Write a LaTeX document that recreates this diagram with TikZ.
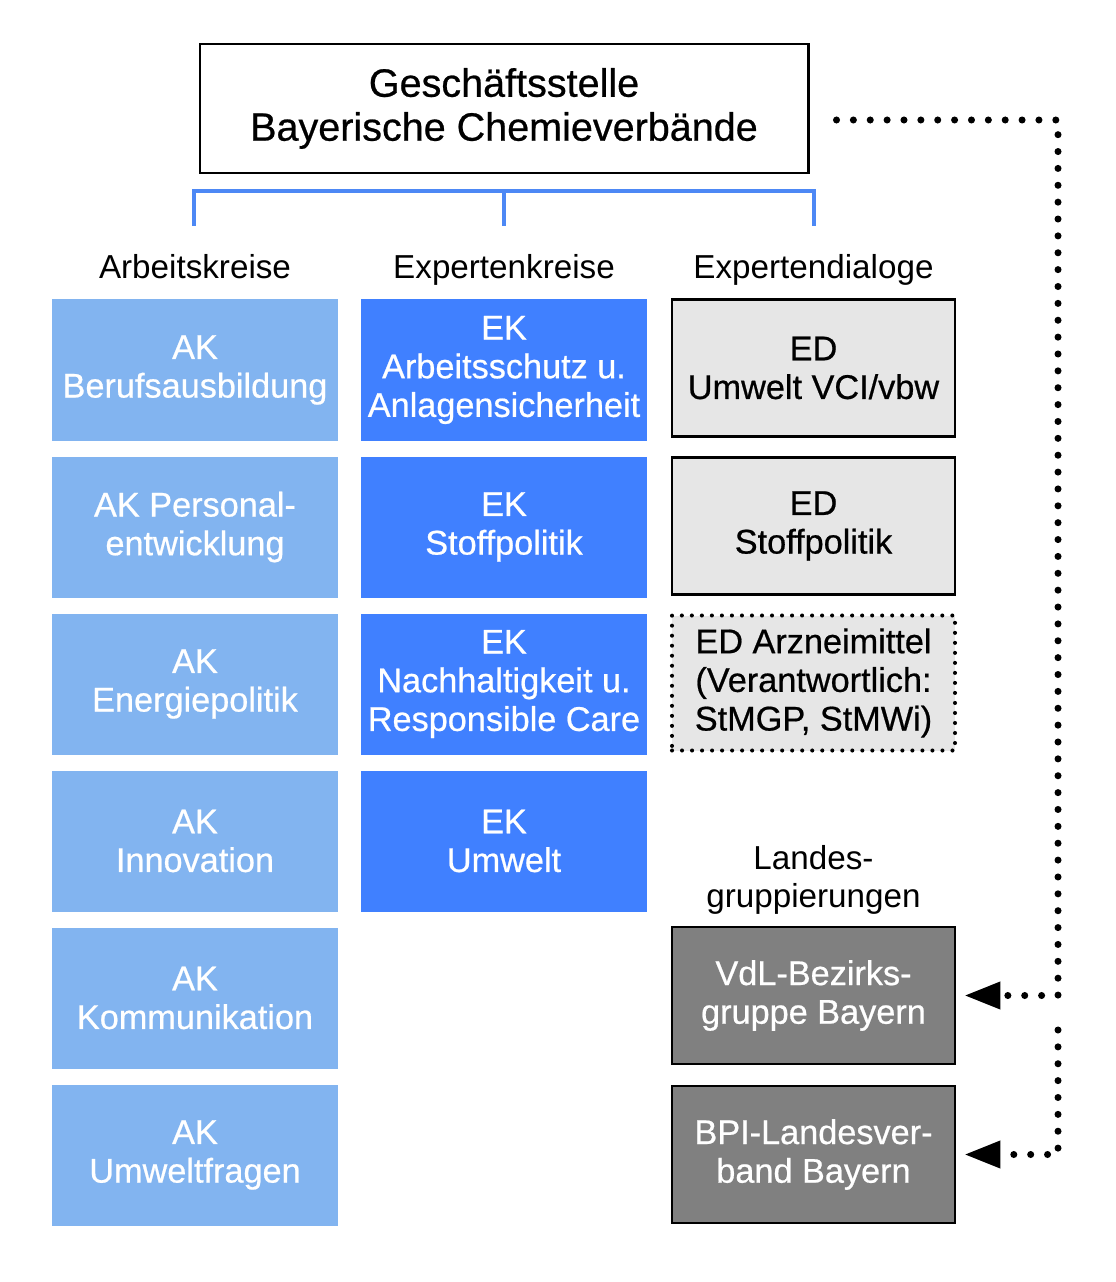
\documentclass[tikz,border=0pt]{standalone}
\usepackage{fontspec}
\setmainfont{Liberation Sans}
\newfontfamily\mediumsans{Liberation Sans}[FakeBold=0.6]
\usetikzlibrary{arrows.meta}

\definecolor{akblue}{HTML}{82B4F0}
\definecolor{ekblue}{HTML}{4080FF}
\definecolor{linkblue}{HTML}{4D88F5}
\definecolor{edgrey}{HTML}{E6E6E6}
\definecolor{lgdark}{HTML}{808080}

\begin{document}
\begin{tikzpicture}[
    box/.style={minimum width=5.72cm, minimum height=2.82cm, inner sep=0pt,
        align=center, font=\mediumsans\fontsize{19.5}{22}\selectfont},
    akbox/.style={box, fill=akblue, text=white},
    ekbox/.style={box, fill=ekblue, text=white},
    edbox/.style={box, fill=edgrey, draw=black, line width=1.6pt,
        minimum width=5.66cm, minimum height=2.74cm},
    edopen/.style={box, fill=edgrey, draw=black, line width=2.3pt,
        dash pattern=on 0pt off 5.7pt, line cap=round,
        minimum width=5.66cm, minimum height=2.70cm},
    lgbox/.style={edbox, fill=lgdark, text=white},
    head/.style={anchor=base, font=\fontsize{18.9}{22}\selectfont},
    conn/.style={line width=4pt, dash pattern=on 0pt off 9.6pt, line cap=round,
        -{Triangle[length=0.72cm, width=0.52cm]}, shorten >=0.16cm}
]
    \useasboundingbox (0, 0) rectangle (22.32, -25.64);

    % top box
    \node[draw=black, line width=1.7pt, minimum width=12.16cm, minimum height=2.58cm,
        align=center, font=\mediumsans\fontsize{22.5}{25}\selectfont]
        (gs) at (10.08, -2.17) {Geschäftsstelle\\Bayerische Chemieverbände};

    % blue bracket
    \coordinate (brl) at (3.88, -4.52);
    \coordinate (brm) at (10.08, -4.52);
    \coordinate (brr) at (16.28, -4.52);
    \coordinate (brtop) at (10.08, -3.82);
    \draw[linkblue, line width=2.8pt] (brl) |- (brtop) -| (brr);
    \draw[linkblue, line width=2.8pt] (brm) -- (brtop);

    % column heads
    \node[head] (hak) at (3.90, -5.57) {Arbeitskreise};
    \node[head] (hek) at (10.08, -5.57) {Expertenkreise};
    \node[head] (hed) at (16.27, -5.57) {Expertendialoge};

    % Arbeitskreise
    \node[akbox] (ak1) at (3.90, -7.40) {AK\\Berufsausbildung};
    \node[akbox] (ak2) at (3.90, -10.54) {AK Personal-\\entwicklung};
    \node[akbox] (ak3) at (3.90, -13.68) {AK\\Energiepolitik};
    \node[akbox] (ak4) at (3.90, -16.82) {AK\\Innovation};
    \node[akbox] (ak5) at (3.90, -19.96) {AK\\Kommunikation};
    \node[akbox] (ak6) at (3.90, -23.10) {AK\\Umweltfragen};

    % Expertenkreise
    \node[ekbox] (ek1) at (10.08, -7.40) {EK\\Arbeitsschutz u.\\Anlagensicherheit};
    \node[ekbox] (ek2) at (10.08, -10.54) {EK\\Stoffpolitik};
    \node[ekbox] (ek3) at (10.08, -13.68) {EK\\Nachhaltigkeit u.\\Responsible Care};
    \node[ekbox] (ek4) at (10.08, -16.82) {EK\\Umwelt};

    % Expertendialoge
    \node[edbox] (ed1) at (16.27, -7.36) {ED\\Umwelt VCI/vbw};
    \node[edbox] (ed2) at (16.27, -10.52) {ED\\Stoffpolitik};
    \node[edopen] (ed3) at (16.27, -13.66) {ED Arzneimittel\\(Verantwortlich:\\StMGP, StMWi)};

    % Landesgruppierungen
    \node[align=center, font=\fontsize{18.9}{22}\selectfont] (hlg) at (16.27, -17.60)
        {Landes-\\gruppierungen};
    \node[lgbox] (vdl) at (16.27, -19.91) {VdL-Bezirks-\\gruppe Bayern};
    \node[lgbox] (bpi) at (16.27, -23.09) {BPI-Landesver-\\band Bayern};

    % dotted links
    \coordinate (rail) at (21.16, -2.40);
    \coordinate (rail2) at (21.16, -20.60);
    \draw[conn] ([xshift=0.54cm, yshift=-0.23cm]gs.east) -- (rail) |- (vdl.east);
    \draw[conn] (rail2) |- (bpi.east);
\end{tikzpicture}
\end{document}
